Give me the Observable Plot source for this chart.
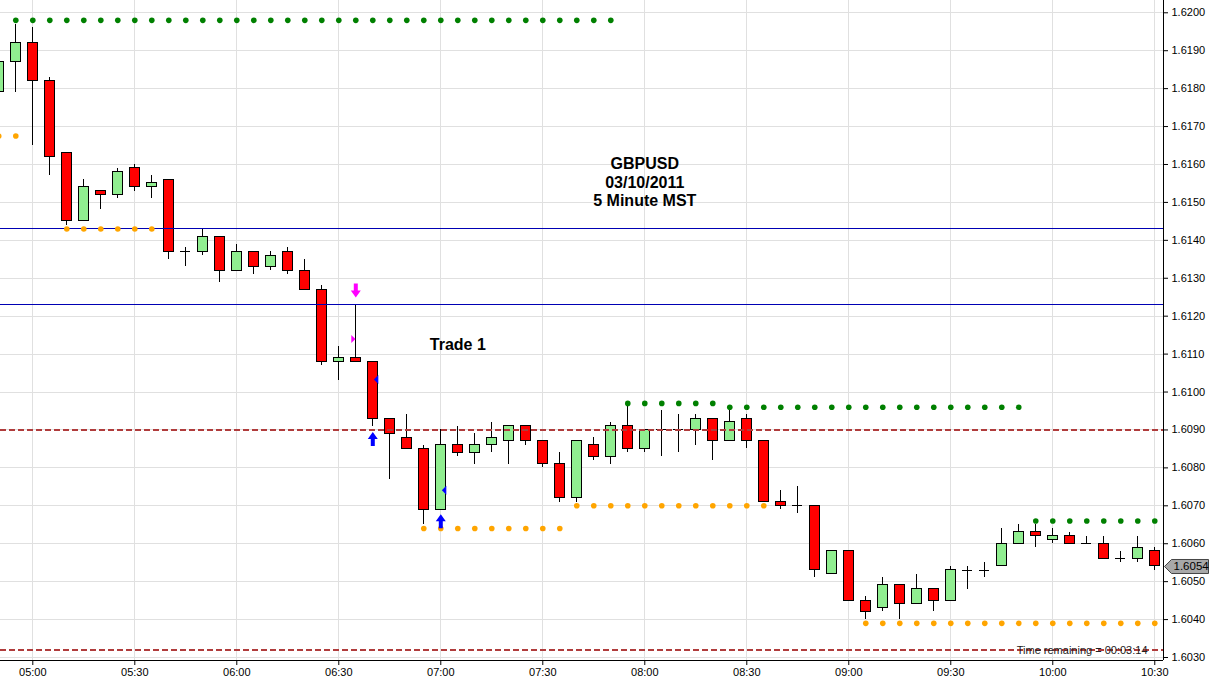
<!DOCTYPE html>
<html>
<head>
<meta charset="utf-8">
<script src="https://cdn.jsdelivr.net/npm/d3@7"></script>
<script src="https://cdn.jsdelivr.net/npm/@observablehq/plot@0.6"></script>
<style>
html, body { margin: 0; padding: 0; background: #fff; overflow: hidden; }
#chart svg { display: block; }
</style>
</head>
<body>
<div id="chart"></div>
<script>
// ---- Data (GBPUSD, 5-minute bars, 03/10/2011) ----
const times = ["04:50","04:55","05:00","05:05","05:10","05:15","05:20","05:25","05:30","05:35",
  "05:40","05:45","05:50","05:55","06:00","06:05","06:10","06:15","06:20","06:25",
  "06:30","06:35","06:40","06:45","06:50","06:55","07:00","07:05","07:10","07:15",
  "07:20","07:25","07:30","07:35","07:40","07:45","07:50","07:55","08:00","08:05",
  "08:10","08:15","08:20","08:25","08:30","08:35","08:40","08:45","08:50","08:55",
  "09:00","09:05","09:10","09:15","09:20","09:25","09:30","09:35","09:40","09:45",
  "09:50","09:55","10:00","10:05","10:10","10:15","10:20","10:25","10:30"];
const opens = [1.6179,1.6187,1.6192,1.6182,1.6163,1.6145,1.6153,1.6152,1.6159,1.6154,
  1.6156,1.6137,1.6137,1.6141,1.6132,1.6137,1.6133,1.6137,1.6132,1.6127,
  1.6108,1.6109,1.6108,1.6093,1.6088,1.6085,1.6069,1.6086,1.6084,1.6086,
  1.6087,1.6091,1.6087,1.6081,1.6072,1.6086,1.6083,1.6091,1.6085,1.6090,
  1.6090,1.6090,1.6093,1.6087,1.6093,1.6087,1.6071,1.6070,1.6070,1.6052,
  1.6058,1.6045,1.6043,1.6049,1.6044,1.6048,1.6045,1.6053,1.6053,1.6054,
  1.6060,1.6063,1.6061,1.6062,1.6060,1.6060,1.6056,1.6056,1.6058];
const highs = [1.6190,1.6197,1.6196,1.6183,1.6163,1.6156,1.6153,1.6159,1.6160,1.6157,
  1.6156,1.6138,1.6143,1.6141,1.6139,1.6137,1.6137,1.6138,1.6135,1.6128,
  1.6112,1.6123,1.6108,1.6093,1.6094,1.6086,1.6090,1.6091,1.6089,1.6092,
  1.6091,1.6091,1.6087,1.6084,1.6087,1.6088,1.6092,1.6097,1.6090,1.6095,
  1.6094,1.6094,1.6093,1.6096,1.6094,1.6087,1.6074,1.6075,1.6070,1.6058,
  1.6058,1.6046,1.6051,1.6049,1.6052,1.6048,1.6054,1.6054,1.6055,1.6064,
  1.6065,1.6065,1.6064,1.6063,1.6062,1.6062,1.6058,1.6062,1.6059];
const lows = [1.6176,1.6179,1.6165,1.6157,1.6144,1.6145,1.6148,1.6151,1.6153,1.6151,
  1.6135,1.6133,1.6136,1.6129,1.6132,1.6131,1.6132,1.6131,1.6127,1.6107,
  1.6103,1.6108,1.6091,1.6077,1.6085,1.6065,1.6069,1.6083,1.6081,1.6084,
  1.6081,1.6086,1.6080,1.6071,1.6071,1.6082,1.6081,1.6084,1.6084,1.6083,
  1.6084,1.6086,1.6082,1.6087,1.6085,1.6071,1.6069,1.6068,1.6051,1.6052,
  1.6045,1.6040,1.6042,1.6040,1.6044,1.6042,1.6045,1.6048,1.6051,1.6054,
  1.6060,1.6059,1.6060,1.6060,1.6060,1.6056,1.6055,1.6055,1.6053];
const closes = [1.6187,1.6192,1.6182,1.6162,1.6145,1.6154,1.6152,1.6158,1.6154,1.6155,
  1.6137,1.6137,1.6141,1.6132,1.6137,1.6133,1.6136,1.6132,1.6127,1.6108,
  1.6109,1.6108,1.6093,1.6089,1.6085,1.6069,1.6086,1.6084,1.6086,1.6088,
  1.6091,1.6087,1.6081,1.6072,1.6087,1.6083,1.6091,1.6085,1.6090,1.6090,
  1.6090,1.6093,1.6087,1.6092,1.6087,1.6071,1.6070,1.6070,1.6053,1.6058,
  1.6045,1.6042,1.6049,1.6044,1.6048,1.6045,1.6053,1.6053,1.6053,1.6060,
  1.6063,1.6062,1.6062,1.6060,1.6060,1.6056,1.6056,1.6059,1.6054];
// resistance (green dots) and support (orange dots), one value per bar, null = none
const resistance = [null,1.6198,1.6198,1.6198,1.6198,1.6198,1.6198,1.6198,1.6198,1.6198,
  1.6198,1.6198,1.6198,1.6198,1.6198,1.6198,1.6198,1.6198,1.6198,1.6198,
  1.6198,1.6198,1.6198,1.6198,1.6198,1.6198,1.6198,1.6198,1.6198,1.6198,
  1.6198,1.6198,1.6198,1.6198,1.6198,1.6198,1.6198,1.6097,1.6097,1.6097,
  1.6097,1.6097,1.6097,1.6096,1.6096,1.6096,1.6096,1.6096,1.6096,1.6096,
  1.6096,1.6096,1.6096,1.6096,1.6096,1.6096,1.6096,1.6096,1.6096,1.6096,
  1.6096,1.6066,1.6066,1.6066,1.6066,1.6066,1.6066,1.6066,1.6066];
const support = [1.61675,1.61675,null,null,1.6143,1.6143,1.6143,1.6143,1.6143,1.6143,
  null,null,null,null,null,null,null,null,null,null,
  null,null,null,null,null,1.6064,1.6064,1.6064,1.6064,1.6064,
  1.6064,1.6064,1.6064,1.6064,1.6070,1.6070,1.6070,1.6070,1.6070,1.6070,
  1.6070,1.6070,1.6070,1.6070,1.6070,1.6070,null,null,null,null,
  null,1.6039,1.6039,1.6039,1.6039,1.6039,1.6039,1.6039,1.6039,1.6039,
  1.6039,1.6039,1.6039,1.6039,1.6039,1.6039,1.6039,1.6039,1.6039];
// horizontal levels
const blueLevels = [1.6143, 1.6123];
const dashedLevels = [1.6090, 1.6032];
// trade signals
const downArrowTimes = ["06:35"], downArrowPrices = [1.61268];
const upArrowTimes = ["06:40","07:00"], upArrowPrices = [1.60876, 1.60659];
const rightTriTimes = ["06:35"], rightTriPrices = [1.6114];
const leftTriTimes = ["06:40","07:00"], leftTriPrices = [1.61033, 1.60741];
// axis ticks
const xTickLabels = ["05:00","05:30","06:00","06:30","07:00","07:30","08:00","08:30","09:00","09:30","10:00","10:30"];
const yTicks = [1.6030,1.6040,1.6050,1.6060,1.6070,1.6080,1.6090,1.6100,1.6110,1.6120,
  1.6130,1.6140,1.6150,1.6160,1.6170,1.6180,1.6190,1.6200];
// annotations
const titleText = "GBPUSD\n03/10/2011\n5 Minute MST", titleTime = "08:00", titlePrice = 1.61555;
const tradeText = "Trade 1", tradeTime = "07:05", tradePrice = 1.61125;
const timeRemainingText = "Time remaining = 00:03:14";
const lastPrice = 1.6054;
const xDomainLabels = ["04:50:30", "10:32:34"];
const yDomain = [1.602921, 1.620324];

// ---- Build ----
const T = s => new Date(`2011-03-10T${s.length === 5 ? s + ":00" : s}Z`);
const candles = times.map((t, i) => ({t: T(t), o: opens[i], h: highs[i], l: lows[i], c: closes[i]}));
const HALF = 90e3; // half body width in ms
const bodies = candles.filter(d => d.o !== d.c);
const dojis = candles.filter(d => d.o === d.c);
const resDots = times.map((t, i) => ({t: T(t), v: resistance[i]})).filter(d => d.v != null);
const supDots = times.map((t, i) => ({t: T(t), v: support[i]})).filter(d => d.v != null);
const pts = (ts, ps) => ts.map((t, i) => ({t: T(t), v: ps[i]}));
const xDomain = xDomainLabels.map(T);
const xTicks = xTickLabels.map(T);

const arrowUp = {draw(c) { c.moveTo(-2,7); c.lineTo(-2,0); c.lineTo(-5,0); c.lineTo(0,-7); c.lineTo(5,0); c.lineTo(2,0); c.lineTo(2,7); c.closePath(); }};
const arrowDown = {draw(c) { c.moveTo(-2,-7); c.lineTo(-2,0); c.lineTo(-5,0); c.lineTo(0,7); c.lineTo(5,0); c.lineTo(2,0); c.lineTo(2,-7); c.closePath(); }};
const triRight = {draw(c) { c.moveTo(-2,-4); c.lineTo(2.2,0); c.lineTo(-2,4); c.closePath(); }};
const triLeft = {draw(c) { c.moveTo(2.2,-4.5); c.lineTo(-2.2,0); c.lineTo(2.2,4.5); c.closePath(); }};
const priceTag = {draw(c) { c.moveTo(0,0); c.lineTo(7,-7); c.lineTo(44,-7); c.lineTo(44,7); c.lineTo(7,7); c.closePath(); }};

const GRID = "#e0e0e0";
const CRISP = "crispEdges";
const chart = Plot.plot({
  width: 1214,
  height: 689,
  marginLeft: 0,
  marginRight: 51,
  marginTop: 0,
  marginBottom: 29,
  style: {fontFamily: "'Liberation Sans', Arial, sans-serif", fontSize: "11px", color: "#000", background: "#fff"},
  x: {type: "utc", domain: xDomain, label: null},
  y: {domain: yDomain, label: null},
  marks: [
    Plot.ruleY(yTicks, {stroke: GRID, shapeRendering: CRISP}),
    Plot.ruleX(xTicks, {stroke: GRID, shapeRendering: CRISP}),
    // wicks
    Plot.ruleX(candles, {x: "t", y1: "l", y2: "h", stroke: "#000", strokeWidth: 1, clip: true, shapeRendering: CRISP}),
    // bodies
    Plot.rect(bodies, {
      x1: d => new Date(+d.t - HALF), x2: d => new Date(+d.t + HALF),
      y1: "o", y2: "c",
      fill: d => d.c > d.o ? "#90ee90" : "#ff0000",
      stroke: "#000", strokeWidth: 1, clip: true, shapeRendering: CRISP
    }),
    Plot.ruleY(dojis, {x1: d => new Date(+d.t - HALF), x2: d => new Date(+d.t + HALF), y: "c", stroke: "#000", clip: true, shapeRendering: CRISP}),
    // level lines
    Plot.ruleY(blueLevels, {stroke: "#0000b4", strokeWidth: 1, shapeRendering: CRISP}),
    Plot.ruleY(dashedLevels, {stroke: "#b03c3c", strokeWidth: 2, strokeDasharray: "6,3", shapeRendering: CRISP}),
    // dots
    Plot.dot(resDots, {x: "t", y: "v", r: 2.8, fill: "#008000", stroke: "none", clip: true}),
    Plot.dot(supDots, {x: "t", y: "v", r: 2.8, fill: "#ffa500", stroke: "none", clip: true}),
    // signals
    Plot.dot(pts(downArrowTimes, downArrowPrices), {x: "t", y: "v", symbol: arrowDown, fill: "#ff00ff", stroke: "none"}),
    Plot.dot(pts(upArrowTimes, upArrowPrices), {x: "t", y: "v", symbol: arrowUp, fill: "#0000ff", stroke: "none"}),
    Plot.dot(pts(rightTriTimes, rightTriPrices), {x: "t", y: "v", symbol: triRight, fill: "#ff00ff", stroke: "none", dx: -2.5}),
    Plot.dot(pts(leftTriTimes, leftTriPrices), {x: "t", y: "v", symbol: triLeft, fill: "#0000ff", stroke: "none", dx: 3.3}),
    // axis lines
    Plot.ruleX([xDomain[1]], {stroke: "#000", shapeRendering: CRISP}),
    Plot.ruleY([yDomain[0]], {stroke: "#000", shapeRendering: CRISP}),
    Plot.axisY({anchor: "right", ticks: yTicks, tickFormat: d => d.toFixed(4), tickSize: 4, tickPadding: 4, label: null, fontSize: 11}),
    Plot.axisX({anchor: "bottom", ticks: xTicks, tickFormat: d3.utcFormat("%H:%M"), tickSize: 5, tickPadding: 3, label: null, fontSize: 11}),
    // annotations
    Plot.text([titleText], {x: () => T(titleTime), y: () => titlePrice, text: d => d, fontSize: 16, fontWeight: "bold", lineHeight: 1.17, fill: "#000"}),
    Plot.text([tradeText], {x: () => T(tradeTime), y: () => tradePrice, text: d => d, fontSize: 16, fontWeight: "bold", fill: "#000"}),
    Plot.text([timeRemainingText], {frameAnchor: "bottom-right", text: d => d, dx: -16, dy: -7, fontSize: 11, fill: "#222"}),
    // last price tag
    Plot.dot([lastPrice], {x: () => xDomain[1], y: d => d, symbol: priceTag, fill: "#a8a8a8", stroke: "#444", strokeWidth: 1, dx: 1}),
    Plot.text([lastPrice], {x: () => xDomain[1], y: d => d, text: d => d.toFixed(4), dx: 10, textAnchor: "start", fontSize: 11.5, fill: "#000"})
  ]
});
document.getElementById("chart").appendChild(chart);
</script>
</body>
</html>
